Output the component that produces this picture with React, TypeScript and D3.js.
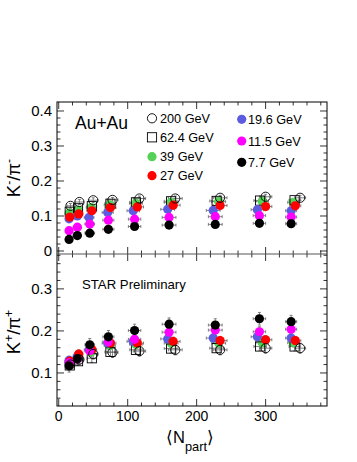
import React from "react";
import * as d3 from "d3";

// centrality bins 70-80% ... 0-5%, per beam energy
const energies = ["200 GeV", "62.4 GeV", "39 GeV", "27 GeV", "19.6 GeV", "11.5 GeV", "7.7 GeV"];

const npart200 = [17, 30, 50, 78, 117, 169, 234, 300, 350];
const npart62 = [16, 28, 48, 75, 112, 163, 229, 292, 342];
const npart39 = [15, 28, 47, 74, 112, 163, 232, 295, 340];
const npart27 = [16, 29, 48, 75, 114, 166, 234, 300, 343];
const npart19 = [15, 27, 44, 71, 108, 158, 224, 288, 337];
const npart11 = [15, 27, 45, 72, 110, 160, 227, 291, 337];
const npart7 = [15, 27, 45, 72, 110, 160, 227, 291, 337];

const npartErr = [5, 6, 7, 8, 9, 10, 10, 9, 8];

// K-/pi-
const kmPi200 = [0.129, 0.140, 0.145, 0.146, 0.150, 0.150, 0.152, 0.155, 0.152];
const kmPi62 = [0.112, 0.122, 0.128, 0.135, 0.139, 0.142, 0.143, 0.144, 0.145];
const kmPi39 = [0.108, 0.117, 0.124, 0.132, 0.136, 0.139, 0.141, 0.142, 0.139];
const kmPi27 = [0.097, 0.106, 0.115, 0.124, 0.126, 0.131, 0.130, 0.127, 0.129];
const kmPi19 = [0.092, 0.100, 0.096, 0.110, 0.115, 0.119, 0.116, 0.118, 0.115];
const kmPi11 = [0.058, 0.068, 0.077, 0.088, 0.091, 0.096, 0.098, 0.101, 0.097];
const kmPi7 = [0.033, 0.044, 0.051, 0.062, 0.070, 0.074, 0.076, 0.079, 0.078];

// K+/pi+
const kpPi200 = [0.120, 0.132, 0.145, 0.149, 0.152, 0.155, 0.155, 0.159, 0.159];
const kpPi62 = [0.118, 0.128, 0.135, 0.150, 0.155, 0.158, 0.159, 0.163, 0.163];
const kpPi39 = [0.125, 0.140, 0.150, 0.165, 0.168, 0.171, 0.171, 0.172, 0.172];
const kpPi27 = [0.128, 0.145, 0.156, 0.171, 0.171, 0.175, 0.177, 0.179, 0.177];
const kpPi19 = [0.130, 0.140, 0.155, 0.171, 0.175, 0.181, 0.183, 0.186, 0.183];
const kpPi11 = [0.124, 0.133, 0.153, 0.174, 0.180, 0.197, 0.202, 0.198, 0.204];
const kpPi7 = [0.117, 0.134, 0.167, 0.186, 0.201, 0.216, 0.214, 0.229, 0.222];

const errTop = [0.007, 0.005, 0.005, 0.005, 0.005, 0.005, 0.005];
const errBot = [0.012, 0.010, 0.010, 0.010, 0.010, 0.012, 0.015];

const xTicks = [0, 100, 200, 300];
const topTicks = [0, 0.1, 0.2, 0.3, 0.4];
const botTicks = [0.1, 0.2, 0.3];

const series = [
  { name: energies[0], npart: npart200, top: kmPi200, bot: kpPi200, color: "none", shape: "circle" },
  { name: energies[1], npart: npart62, top: kmPi62, bot: kpPi62, color: "none", shape: "square" },
  { name: energies[2], npart: npart39, top: kmPi39, bot: kpPi39, color: "#55d155", shape: "dot" },
  { name: energies[3], npart: npart27, top: kmPi27, bot: kpPi27, color: "#ff0000", shape: "dot" },
  { name: energies[4], npart: npart19, top: kmPi19, bot: kpPi19, color: "#5c5ce0", shape: "dot" },
  { name: energies[5], npart: npart11, top: kmPi11, bot: kpPi11, color: "#ff00ff", shape: "dot" },
  { name: energies[6], npart: npart7, top: kmPi7, bot: kpPi7, color: "#000000", shape: "dot" },
];
// drawing order (back to front)
const drawOrder = [2, 1, 4, 3, 5, 6, 0];

const FONT = "'Liberation Sans', Arial, Helvetica, sans-serif";
const L = 57, R = 327, T = 102, MID = 254, B = 406;
const RAD = 4.6;

const x = d3.scaleLinear().domain([-2.5, 389]).range([L, R]);
const yTop = d3.scaleLinear().domain([-0.0086, 0.4257]).range([MID, T]);
const yBot = d3.scaleLinear().domain([0.0214, 0.383]).range([B, MID]);

function Marker({ shape, color, cx, cy }: any) {
  if (shape === "circle")
    return <circle cx={cx} cy={cy} r={RAD} fill="none" stroke="#000" strokeWidth={0.9} />;
  if (shape === "square")
    return <rect x={cx - RAD} y={cy - RAD} width={RAD * 2} height={RAD * 2} fill="none" stroke="#000" strokeWidth={0.9} />;
  return <circle cx={cx} cy={cy} r={RAD} fill={color} />;
}

function Panel({ y, valKey, errs, top, bottom }: any) {
  const minorX = d3.range(0, 390, 20);
  const [d0, d1] = y.domain();
  const minorY = d3.range(0, 0.42, 0.02).filter((v: number) => v >= d0 && v <= d1);
  const majorY = d3.range(0, 0.42, 0.1).filter((v: number) => v >= d0 && v <= d1);
  return (
    <g>
      {/* x ticks on both edges */}
      {minorX.map((v) => {
        const len = v % 100 === 0 ? 7 : 3.5;
        return (
          <g key={"x" + v} stroke="#000" strokeWidth={0.8}>
            <line x1={x(v)} x2={x(v)} y1={bottom} y2={bottom - len} />
            <line x1={x(v)} x2={x(v)} y1={top} y2={top + len} />
          </g>
        );
      })}
      {minorY.map((v) => {
        const major = majorY.some((m: number) => Math.abs(m - v) < 1e-6);
        const len = major ? 7 : 3.5;
        return (
          <g key={"y" + v} stroke="#000" strokeWidth={0.8}>
            <line x1={L} x2={L + len} y1={y(v)} y2={y(v)} />
            <line x1={R} x2={R - len} y1={y(v)} y2={y(v)} />
          </g>
        );
      })}
      {/* error bars */}
      {drawOrder.map((si) => {
        const s = series[si];
        const vals = s[valKey as "top" | "bot"];
        return (
          <g key={"e" + si} stroke="#666" strokeWidth={0.8}>
            {vals.map((v: number, i: number) => {
              const cx = x(s.npart[i]);
              const cy = y(v);
              const x0 = x(s.npart[i] - npartErr[i]);
              const x1 = x(s.npart[i] + npartErr[i]);
              const ey0 = y(v - errs[si]);
              const ey1 = y(v + errs[si]);
              return (
                <g key={i}>
                  <line x1={x0} x2={x1} y1={cy} y2={cy} />
                  <line x1={x0} x2={x0} y1={cy - 1.5} y2={cy + 1.5} />
                  <line x1={x1} x2={x1} y1={cy - 1.5} y2={cy + 1.5} />
                  <line x1={cx} x2={cx} y1={ey0} y2={ey1} />
                  <line x1={cx - 1.5} x2={cx + 1.5} y1={ey1} y2={ey1} />
                  <line x1={cx - 1.5} x2={cx + 1.5} y1={ey0} y2={ey0} />
                </g>
              );
            })}
          </g>
        );
      })}
      {drawOrder.map((si) => {
        const s = series[si];
        const vals = s[valKey as "top" | "bot"];
        return (
          <g key={"m" + si}>
            {vals.map((v: number, i: number) => (
              <Marker key={i} shape={s.shape} color={s.color} cx={x(s.npart[i])} cy={y(v)} />
            ))}
          </g>
        );
      })}
    </g>
  );
}

export default function App() {
  const legend1 = [0, 1, 2, 3];
  const legend2 = [4, 5, 6];
  const rows1 = [118.3, 137.3, 156.7, 175.7];
  const rows2 = [119.3, 141, 162.3];
  return (
    <svg
      width={357}
      height={462}
      style={{ position: "absolute", left: 0, top: 0, background: "#fff" }}
      fontFamily={FONT}
    >
      <rect x={0} y={0} width={357} height={462} fill="#fff" />
      <Panel y={yTop} valKey="top" errs={errTop} top={T} bottom={MID} />
      <Panel y={yBot} valKey="bot" errs={errBot} top={MID} bottom={B} />
      {/* frames */}
      <rect x={L} y={T} width={R - L} height={B - T} fill="none" stroke="#000" strokeWidth={1} />
      <line x1={L} x2={R} y1={MID} y2={MID} stroke="#555" strokeWidth={1.2} />

      {/* y tick labels */}
      {topTicks.map((v) => (
        <text key={"tl" + v} x={52} y={yTop(v) + 5} fontSize={15} textAnchor="end">
          {v === 0 ? "0" : v.toFixed(1)}
        </text>
      ))}
      {botTicks.map((v) => (
        <text key={"bl" + v} x={52} y={yBot(v) + 5} fontSize={15} textAnchor="end">
          {v.toFixed(1)}
        </text>
      ))}
      {xTicks.map((v) => (
        <text key={"xl" + v} x={x(v)} y={421} fontSize={14} textAnchor="middle">
          {v}
        </text>
      ))}

      {/* axis titles */}
      <text transform="translate(20,178) rotate(-90)" fontSize={18.5} textAnchor="middle">
        K<tspan dy={-7} fontSize={12}>-</tspan>
        <tspan dy={7}>/π</tspan>
        <tspan dy={-7} fontSize={12}>-</tspan>
      </text>
      <text transform="translate(20,332) rotate(-90)" fontSize={18.5} textAnchor="middle">
        K<tspan dy={-7} fontSize={12}>+</tspan>
        <tspan dy={7}>/π</tspan>
        <tspan dy={-7} fontSize={12}>+</tspan>
      </text>
      <text x={190} y={442.5} fontSize={16.5} textAnchor="middle">
        ⟨N<tspan dy={8} fontSize={12.8}>part</tspan>
        <tspan dy={-8}>⟩</tspan>
      </text>

      {/* annotations */}
      <text x={75} y={129} fontSize={17.5}>Au+Au</text>
      <text x={82} y={289} fontSize={13.2}>STAR Preliminary</text>

      {/* legend */}
      {legend1.map((si, k) => (
        <g key={"lg1" + si}>
          <Marker shape={series[si].shape} color={series[si].color} cx={152} cy={rows1[k]} />
          <text x={160} y={rows1[k] + 4.6} fontSize={12.7}>{series[si].name}</text>
        </g>
      ))}
      {legend2.map((si, k) => (
        <g key={"lg2" + si}>
          <Marker shape={series[si].shape} color={series[si].color} cx={241.7} cy={rows2[k]} />
          <text x={248} y={rows2[k] + 4.6} fontSize={12.7}>{series[si].name}</text>
        </g>
      ))}
    </svg>
  );
}
